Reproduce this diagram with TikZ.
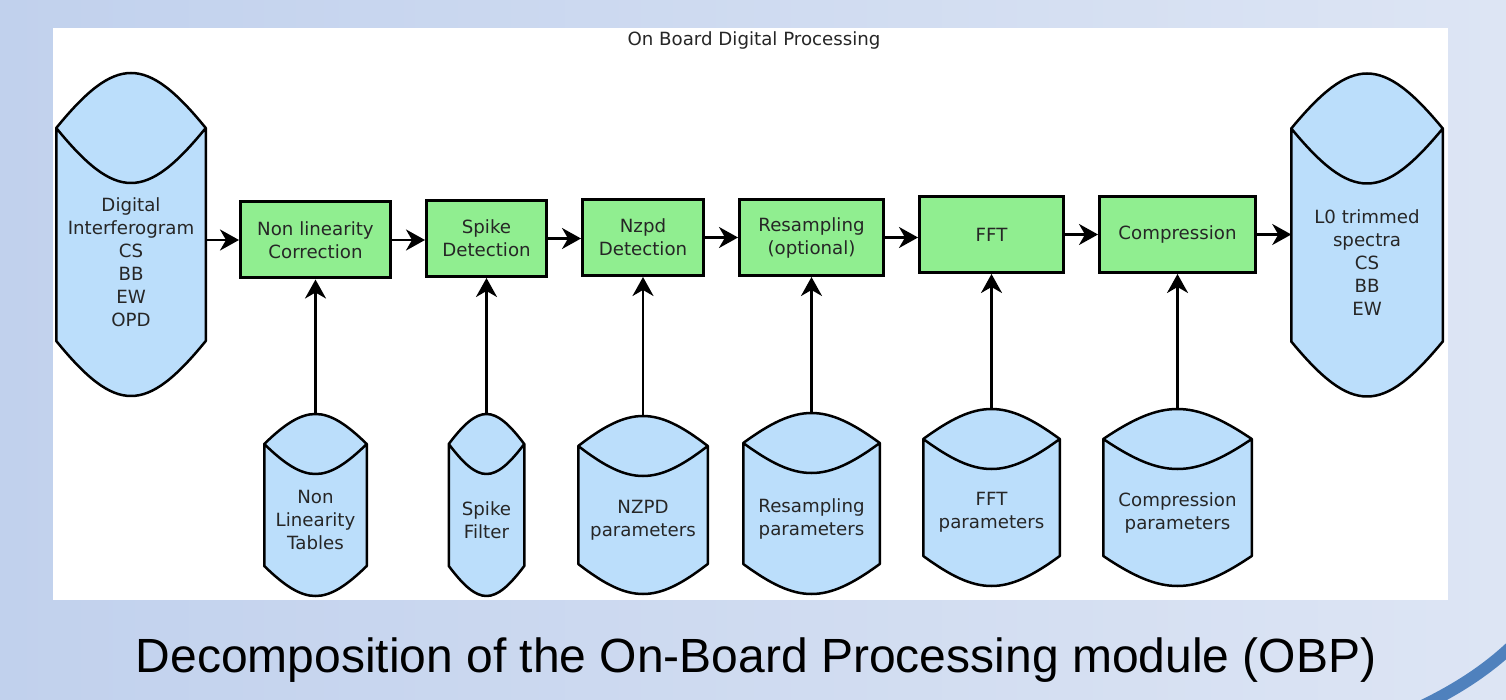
\documentclass[tikz,border=0pt]{standalone}
\usepackage{fontspec}
\setmainfont{DejaVu Sans}
\newfontfamily\capfont{Liberation Sans}
\usetikzlibrary{arrows.meta, positioning, calc, backgrounds}

\definecolor{procgreen}{RGB}{144,238,144}
\definecolor{tankblue}{RGB}{187,222,251}
\definecolor{bgleft}{RGB}{193,209,237}
\definecolor{bgright}{RGB}{221,229,244}
\definecolor{swoosh}{RGB}{79,129,189}

\begin{document}
\begin{tikzpicture}[
  x=1pt, y=-1pt,
  every node/.style={font=\fontsize{18.2}{23}\selectfont, text=black!85},
  proc/.style={rectangle, draw, line width=3pt, fill=procgreen, minimum height=76pt, align=center, inner sep=0pt},
  store/.style={rectangle, align=center, inner sep=0pt, outer sep=0pt},
  tank/.style={draw, line width=2.5pt, line join=round, fill=tankblue},
  flow/.style={-{Stealth[length=19pt, width=21pt, inset=6pt]}, line width=2.6pt},
  node distance=33pt
]
\useasboundingbox (0,0) rectangle (1506,700);

\node[anchor=base] (title) at (754,46) {On Board Digital Processing};

\node[store, minimum width=149.5pt, minimum height=268pt] (src) at (131,262) {Digital\\Interferogram\\CS\\BB\\EW\\OPD};
\node[proc, minimum width=150pt] (nlc) at (315.5,240) {Non linearity\\Correction};
\node[proc, minimum width=120pt, right=of nlc, yshift=1.5pt] (spk) {Spike\\Detection};
\node[proc, minimum width=121pt, right=of spk, yshift=1pt] (nzd) {Nzpd\\Detection};
\node[proc, minimum width=144pt, right=of nzd] (res) {Resampling\\(optional)};
\node[proc, minimum width=144pt, right=of res, yshift=3pt] (fft) {FFT};
\node[proc, minimum width=156pt, right=of fft] (cmp) {Compression};
\node[store, minimum width=151.5pt, minimum height=268pt] (out) at (1367,262.5) {L0 trimmed\\spectra\\CS\\BB\\EW};

% parameter stores under the chain
\node[store, minimum width=102.5pt, minimum height=152pt] (nlt) at (nlc |- 0,520) {Non\\Linearity\\Tables};
\node[store, minimum width=75.5pt, minimum height=152pt] (spf) at (spk |- 0,520) {Spike\\Filter};
\node[store, minimum width=129.5pt, minimum height=148pt] (nzp) at (nzd |- 0,520) {NZPD\\parameters};
\node[store, minimum width=136.5pt, minimum height=151pt] (rsp) at (res |- 0,518.5) {Resampling\\parameters};
\node[store, minimum width=136.5pt, minimum height=147pt] (fftp) at (fft |- 0,512.5) {FFT\\parameters};
\node[store, minimum width=148.5pt, minimum height=147pt] (cmpp) at (cmp |- 0,512.5) {Compression\\parameters};

\node[anchor=base, font=\capfont\fontsize{48}{56}\selectfont, text=black] (caption) at (756,672)
  {Decomposition of the On-Board Processing module (OBP)};

\begin{scope}[on background layer]
  \shade[left color=bgleft, right color=bgright] (0,0) rectangle (1506,700);
  \draw[swoosh, line width=12pt] (1405,714) .. controls (1450,694) and (1485,672) .. (1514,644);
  \fill[white] (53,28) rectangle (1448,600);
  \foreach \tk/\dome in {src/55pt, out/55pt, nlt/30pt, spf/30pt, nzp/30pt, rsp/30pt, fftp/30pt, cmpp/30pt}
    \filldraw[tank] let \p1=(\tk.north west), \p2=(\tk.north east), \p3=(\tk.south west),
        \p4=($(\tk.north west)!0.4!(\tk.north east)$), \p5=($(\tk.north west)!0.6!(\tk.north east)$) in
      (\p1) .. controls (\x4,{\y1+4/3*\dome}) and (\x5,{\y1+4/3*\dome}) .. (\p2)
      -- (\x2,{\y3+\dome}) .. controls (\x5,{\y3-\dome/3}) and (\x4,{\y3-\dome/3}) .. (\x1,{\y3+\dome}) -- cycle
      (\p2) .. controls (\x5,{\y1-4/3*\dome}) and (\x4,{\y1-4/3*\dome}) .. (\p1);
\end{scope}

\draw[flow] (src.east |- nlc.west) -- (nlc.west);
\foreach \lft/\rgt in {nlc/spk, spk/nzd, nzd/res, res/fft, fft/cmp}
  \draw[flow] (\lft.east) -- (\lft.east -| \rgt.west);
\draw[flow] (cmp.east) -- (cmp.east -| out.west);
\foreach \tbl/\blk in {nlt/nlc, spf/spk, nzp/nzd, rsp/res, fftp/fft, cmpp/cmp}
  \draw[flow] ([yshift=30pt]\tbl.north) -- (\tbl.north |- \blk.south);
\end{tikzpicture}
\end{document}
